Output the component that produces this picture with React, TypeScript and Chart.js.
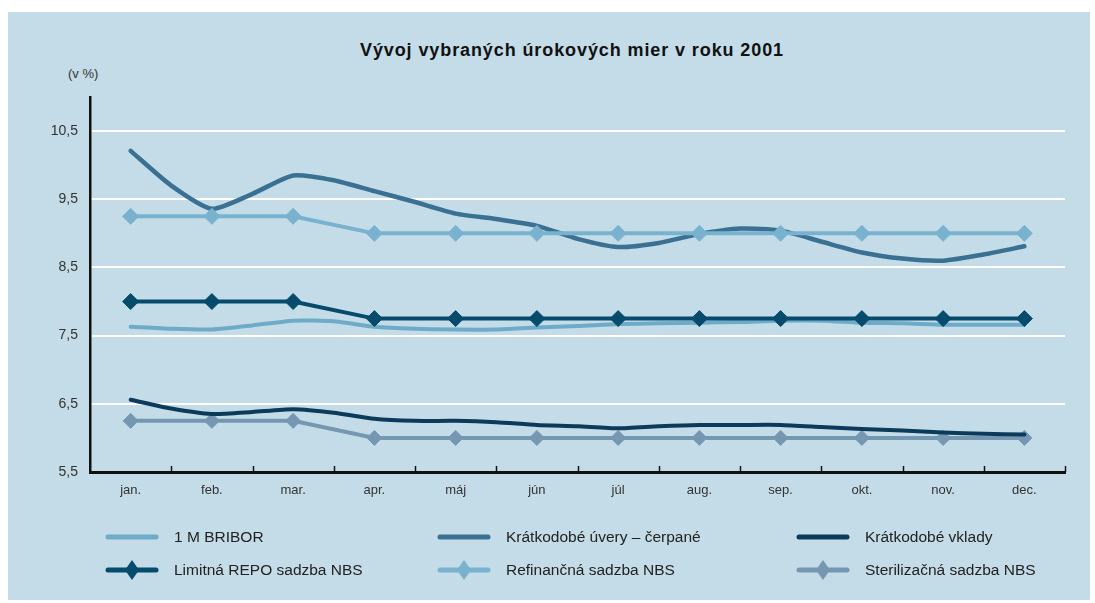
import React, { useEffect, useRef } from "react";
import { Chart, registerables } from "chart.js";

Chart.register(...registerables);

// ---- Data ----
const monthLabels = ["jan.", "feb.", "mar.", "apr.", "máj", "jún", "júl", "aug.", "sep.", "okt.", "nov.", "dec."];
const monthPositions = [0.5, 1.5, 2.5, 3.5, 4.5, 5.5, 6.5, 7.5, 8.5, 9.5, 10.5, 11.5];
const halfMonthPositions = [
  0.5, 1, 1.5, 2, 2.5, 3, 3.5, 4, 4.5, 5, 5.5, 6, 6.5, 7, 7.5, 8, 8.5, 9, 9.5, 10, 10.5, 11, 11.5,
];
const yTickValues = [5.5, 6.5, 7.5, 8.5, 9.5, 10.5];

// half-monthly series
const bribor1M = [
  7.63, 7.6, 7.59, 7.65, 7.72, 7.71, 7.63, 7.6, 7.59, 7.59, 7.62, 7.64, 7.67, 7.68, 7.69, 7.7, 7.72,
  7.72, 7.69, 7.68, 7.66, 7.66, 7.66,
];
const kratkodobeUvery = [
  10.21, 9.7, 9.36, 9.58, 9.85, 9.78, 9.62, 9.46, 9.29, 9.21, 9.11, 8.92, 8.8, 8.86, 8.99, 9.07, 9.04,
  8.88, 8.72, 8.63, 8.6, 8.69, 8.81,
];
const kratkodobeVklady = [
  6.56, 6.43, 6.35, 6.38, 6.42, 6.37, 6.28, 6.25, 6.25, 6.23, 6.19, 6.17, 6.14, 6.17, 6.19, 6.19, 6.19,
  6.16, 6.13, 6.11, 6.08, 6.06, 6.05,
];
// monthly NBS rates
const limitnaRepo = [8.0, 8.0, 8.0, 7.75, 7.75, 7.75, 7.75, 7.75, 7.75, 7.75, 7.75, 7.75];
const refinancna = [9.25, 9.25, 9.25, 9.0, 9.0, 9.0, 9.0, 9.0, 9.0, 9.0, 9.0, 9.0];
const sterilizacna = [6.25, 6.25, 6.25, 6.0, 6.0, 6.0, 6.0, 6.0, 6.0, 6.0, 6.0, 6.0];

const seriesNames = [
  "1 M BRIBOR",
  "Krátkodobé úvery – čerpané",
  "Krátkodobé vklady",
  "Limitná REPO sadzba NBS",
  "Refinančná sadzba NBS",
  "Sterilizačná sadzba NBS",
];
const seriesColors = ["#6dabc9", "#3a7091", "#0c3a5b", "#064a6c", "#79b2cf", "#7597b2"];
const seriesMarkers = [false, false, false, true, true, true];

const FONT = "'Liberation Sans', Arial, Helvetica, sans-serif";
const BG = "#c4dce7";

const tickMarksPlugin = {
  id: "tickMarks",
  afterDraw(chart: any) {
    const { ctx, chartArea } = chart;
    const x = chart.scales.x;
    ctx.save();
    ctx.strokeStyle = "#111";
    ctx.lineWidth = 1.5;
    for (let i = 1; i <= 12; i++) {
      const px = Math.round(x.getPixelForValue(i)) + 0.5;
      ctx.beginPath();
      ctx.moveTo(px, chartArea.bottom);
      ctx.lineTo(px, chartArea.bottom - 6);
      ctx.stroke();
    }
    ctx.restore();
  },
};

function toPoints(xs: number[], ys: number[]) {
  return ys.map((y, i) => ({ x: xs[i], y }));
}

function LegendItem({ color, marker, label }: { color: string; marker: boolean; label: string }) {
  return (
    <div style={{ display: "flex", alignItems: "center", height: 20 }}>
      <svg width={56} height={22} style={{ display: "block" }}>
        <line x1={4} y1={11} x2={52} y2={11} stroke={color} strokeWidth={5} strokeLinecap="round" />
        {marker && <polygon points="28,1 35,11 28,21 21,11" fill={color} />}
      </svg>
      <span style={{ marginLeft: 14, fontSize: 15.5, color: "#222", fontFamily: FONT, whiteSpace: "nowrap" }}>
        {label}
      </span>
    </div>
  );
}

export default function App() {
  const canvasRef = useRef<HTMLCanvasElement | null>(null);

  useEffect(() => {
    const canvas = canvasRef.current;
    if (!canvas) return;

    const lineBase = (idx: number) => ({
      label: seriesNames[idx],
      borderColor: seriesColors[idx],
      backgroundColor: seriesColors[idx],
      borderWidth: 4,
      fill: false,
    });

    const chart = new Chart(canvas, {
      type: "line",
      data: {
        datasets: [
          {
            ...lineBase(0),
            data: toPoints(halfMonthPositions, bribor1M),
            pointRadius: 0,
            tension: 0.2,
            borderCapStyle: "round",
            order: 6,
          },
          {
            ...lineBase(1),
            data: toPoints(halfMonthPositions, kratkodobeUvery),
            pointRadius: 0,
            tension: 0.2,
            borderWidth: 4.5,
            borderCapStyle: "round",
            order: 4,
          },
          {
            ...lineBase(2),
            data: toPoints(halfMonthPositions, kratkodobeVklady),
            pointRadius: 0,
            tension: 0.2,
            borderCapStyle: "round",
            order: 3,
          },
          {
            ...lineBase(3),
            data: toPoints(monthPositions, limitnaRepo),
            pointStyle: "rectRot",
            pointRadius: 8,
            pointBorderWidth: 1,
            pointBackgroundColor: seriesColors[3],
            pointBorderColor: seriesColors[3],
            tension: 0,
            order: 1,
          },
          {
            ...lineBase(4),
            data: toPoints(monthPositions, refinancna),
            pointStyle: "rectRot",
            pointRadius: 8,
            pointBorderWidth: 1,
            pointBackgroundColor: seriesColors[4],
            pointBorderColor: seriesColors[4],
            tension: 0,
            order: 2,
          },
          {
            ...lineBase(5),
            data: toPoints(monthPositions, sterilizacna),
            pointStyle: "rectRot",
            pointRadius: 7.5,
            pointBorderWidth: 1,
            pointBackgroundColor: seriesColors[5],
            pointBorderColor: seriesColors[5],
            tension: 0,
            order: 5,
          },
        ],
      },
      options: {
        animation: false,
        responsive: false,
        maintainAspectRatio: false,
        events: [],
        layout: { padding: { top: 97, left: 40, right: 30, bottom: 101 } },
        plugins: {
          legend: { display: false },
          title: { display: false },
          tooltip: { enabled: false },
        },
        scales: {
          x: {
            type: "linear",
            min: 0,
            max: 12,
            grid: { display: false, drawTicks: false },
            border: { display: true, color: "#111", width: 3 },
            afterBuildTicks: (s: any) => {
              s.ticks = monthPositions.map((v) => ({ value: v }));
            },
            afterFit: (s: any) => {
              s.height = 30;
            },
            ticks: {
              autoSkip: false,
              maxRotation: 0,
              padding: 11,
              color: "#333",
              font: { family: FONT, size: 13 },
              callback: (_v: any, i: number) => monthLabels[i],
            },
          },
          y: {
            type: "linear",
            min: 5.5,
            max: 11,
            grid: { color: "#ffffff", lineWidth: 2, drawTicks: false },
            border: { display: true, color: "#111", width: 2.5 },
            afterBuildTicks: (s: any) => {
              s.ticks = yTickValues.map((v) => ({ value: v }));
            },
            afterFit: (s: any) => {
              s.width = 50;
            },
            ticks: {
              padding: 12,
              color: "#333",
              font: { family: FONT, size: 14 },
              callback: (v: any) => String(v).replace(".", ","),
            },
          },
        },
      },
      plugins: [tickMarksPlugin],
    } as any);

    return () => chart.destroy();
  }, []);

  const legendCols = [108 - 4, 440 - 4, 799 - 4];
  const legendRows = [537, 570];

  return (
    <div style={{ position: "absolute", left: 0, top: 0, width: 1095, height: 603, background: "#ffffff", overflow: "hidden" }}>
      <div style={{ position: "absolute", left: 8, top: 12, width: 1082, height: 588, background: BG }} />
      <div
        style={{
          position: "absolute",
          left: 272,
          top: 40,
          width: 600,
          textAlign: "center",
          fontFamily: FONT,
          fontWeight: 700,
          fontSize: 18,
          letterSpacing: 0.9,
          color: "#111",
          whiteSpace: "nowrap",
        }}
      >
        Vývoj vybraných úrokových mier v roku 2001
      </div>
      <div style={{ position: "absolute", left: 68, top: 66, fontFamily: FONT, fontSize: 13, color: "#333" }}>(v %)</div>
      <canvas ref={canvasRef} width={1095} height={603} style={{ position: "absolute", left: 0, top: 0, width: 1095, height: 603 }} />
      {seriesNames.map((name, i) => (
        <div
          key={name}
          style={{ position: "absolute", left: legendCols[i % 3], top: legendRows[Math.floor(i / 3)] - 10 }}
        >
          <LegendItem color={seriesColors[i]} marker={seriesMarkers[i]} label={name} />
        </div>
      ))}
    </div>
  );
}
